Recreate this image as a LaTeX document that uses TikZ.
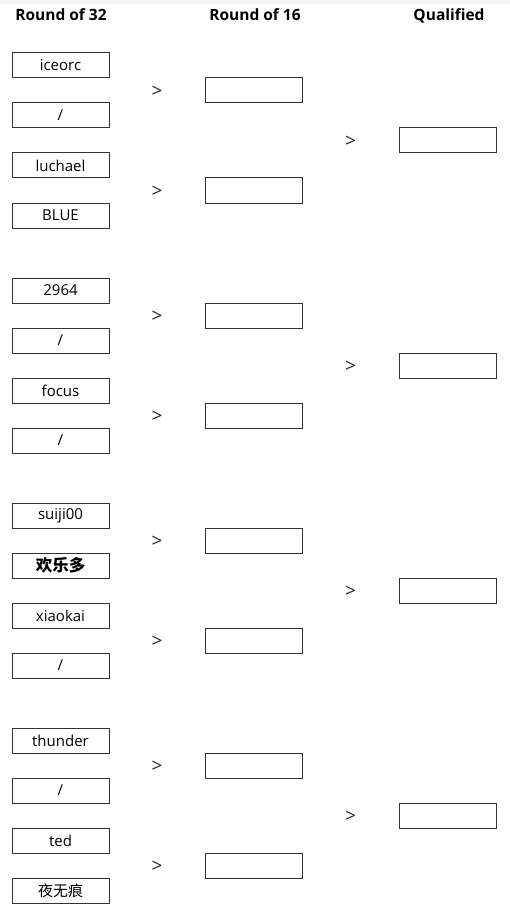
\documentclass[tikz,border=0pt]{standalone}
\usepackage{fontspec}
\setmainfont{Open Sans}
\newfontfamily\cjk{Noto Sans CJK SC}
\begin{document}
\begin{tikzpicture}[x=1pt,y=-1pt,
  pbox/.style={draw=black!80,line width=1pt,minimum width=97pt,minimum height=25pt,inner sep=0pt,font=\fontsize{15}{16}\selectfont},
  ebox/.style={draw=black!80,line width=1pt,minimum width=97pt,minimum height=25pt,inner sep=0pt},
  hdr/.style={font=\bfseries\fontsize{15.5}{16}\selectfont,anchor=base},
  arr/.style={font=\fontsize{19}{19}\selectfont,inner sep=0pt,text=black!85}]
\useasboundingbox (0,0) rectangle (510,920);
\fill[black!4] (0,0) rectangle (510,4);
\node[hdr] (h1) at (61,21) {Round of 32};
\node[hdr] (h2) at (255,21) {Round of 16};
\node[hdr] (h3) at (449,21) {Qualified};
% Round of 32
\begin{scope}[yshift=-1pt]
\node[pbox] (p1) at (60.5,64.5) {iceorc};
\node[pbox] (p2) at (60.5,114.5) {/};
\node[pbox] (p3) at (60.5,164.5) {luchael};
\node[pbox] (p4) at (60.5,214.5) {BLUE};
\node[pbox] (p5) at (60.5,289.5) {2964};
\node[pbox] (p6) at (60.5,339.5) {/};
\node[pbox] (p7) at (60.5,389.5) {focus};
\node[pbox] (p8) at (60.5,439.5) {/};
\node[pbox] (p9) at (60.5,514.5) {suiji00};
\node[pbox,font=\fontsize{16.5}{17}\selectfont] (p10) at (60.5,564.5) {\cjk\bfseries 欢乐多};
\node[pbox] (p11) at (60.5,614.5) {xiaokai};
\node[pbox] (p12) at (60.5,664.5) {/};
\node[pbox] (p13) at (60.5,739.5) {thunder};
\node[pbox] (p14) at (60.5,789.5) {/};
\node[pbox] (p15) at (60.5,839.5) {ted};
\node[pbox] (p16) at (60.5,889.5) {\cjk 夜无痕};
% Round of 16
\foreach \i/\y in {1/89.5,2/189.5,3/314.5,4/414.5,5/539.5,6/639.5,7/764.5,8/864.5}{
  \node[arr] (a\i) at (157,\y+1.5) {>};
  \node[ebox] (r\i) at (254,\y) {};
}
% Qualified
\foreach \i/\y in {1/139.5,2/364.5,3/589.5,4/814.5}{
  \node[arr] (b\i) at (350.5,\y+1.5) {>};
  \node[ebox] (q\i) at (447.5,\y) {};
}
\end{scope}
\end{tikzpicture}
\end{document}
